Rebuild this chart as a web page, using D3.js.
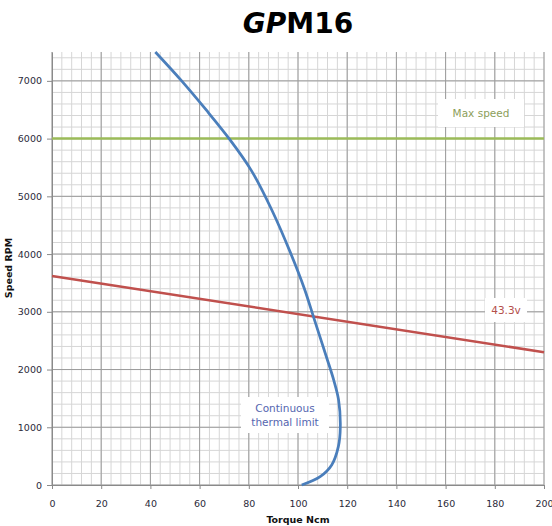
<!DOCTYPE html>
<html>
<head>
<meta charset="utf-8">
<title>GPM16</title>
<script src="https://d3js.org/d3.v7.min.js"></script>
<style>
  body { margin: 0; background: #fff; font-family: "DejaVu Sans", Verdana, sans-serif; }
  svg { display: block; }
</style>
</head>
<body>
<script>
// data
var torque = [101.5, 109, 113.7, 116.4, 117.2, 116.5, 114.5, 111.7, 106.4, 102.6, 97, 89.5, 81, 72, 62.6, 52.7, 42];
var speed  = [0, 144, 347, 664, 1010, 1473, 1820, 2200, 2900, 3400, 4016, 4750, 5450, 6000, 6500, 7000, 7500];
var maxSpeed = 6000;
var voltTorque = [0, 200];
var voltSpeed = [3620, 2300];
var xTicks = [0, 20, 40, 60, 80, 100, 120, 140, 160, 180, 200];
var yTicks = [0, 1000, 2000, 3000, 4000, 5000, 6000, 7000];

var W = 552, H = 526;
var margin = { top: 52, right: 8, bottom: 41, left: 52 };

var svg = d3.select("body").append("svg").attr("width", W).attr("height", H);

var x = d3.scaleLinear().domain([0, 200]).range([margin.left, W - margin.right]);
var y = d3.scaleLinear().domain([0, 7500]).range([H - margin.bottom, margin.top]);

// minor grid
var g = svg.append("g");
g.selectAll(".vmin").data(d3.range(0, 201, 4)).enter().append("line")
  .attr("x1", d => x(d)).attr("x2", d => x(d))
  .attr("y1", y(0)).attr("y2", y(7500))
  .attr("stroke", "#d6d6d6").attr("stroke-width", 1);
g.selectAll(".hmin").data(d3.range(0, 7501, 200)).enter().append("line")
  .attr("x1", x(0)).attr("x2", x(200))
  .attr("y1", d => y(d)).attr("y2", d => y(d))
  .attr("stroke", "#d6d6d6").attr("stroke-width", 1);
// major grid
g.selectAll(".vmaj").data(xTicks).enter().append("line")
  .attr("x1", d => x(d)).attr("x2", d => x(d))
  .attr("y1", y(0)).attr("y2", y(7500))
  .attr("stroke", "#9c9c9c").attr("stroke-width", 1);
g.selectAll(".hmaj").data(yTicks).enter().append("line")
  .attr("x1", x(0)).attr("x2", x(200))
  .attr("y1", d => y(d)).attr("y2", d => y(d))
  .attr("stroke", "#9c9c9c").attr("stroke-width", 1);

// axes
var xAxis = svg.append("g")
  .attr("transform", "translate(0," + y(0) + ")")
  .call(d3.axisBottom(x).tickValues(xTicks).tickSizeInner(4).tickSizeOuter(0).tickPadding(11));
var yAxis = svg.append("g")
  .attr("transform", "translate(" + x(0) + ",0)")
  .call(d3.axisLeft(y).tickValues(yTicks).tickFormat(d3.format("d")).tickSizeInner(5).tickSizeOuter(0).tickPadding(5));
[xAxis, yAxis].forEach(function (a) {
  a.select(".domain").attr("stroke", "#8a8a8a");
  a.selectAll(".tick line").attr("stroke", "#8a8a8a");
  a.selectAll("text").attr("font-family", "DejaVu Sans, Verdana, sans-serif")
    .attr("font-size", "9.5px").attr("fill", "#2a2a3a");
});

// lines
svg.append("line")
  .attr("x1", x(0)).attr("x2", x(200))
  .attr("y1", y(maxSpeed)).attr("y2", y(maxSpeed))
  .attr("stroke", "#9bbb59").attr("stroke-width", 2.5);

svg.append("line")
  .attr("x1", x(voltTorque[0])).attr("x2", x(voltTorque[1]))
  .attr("y1", y(voltSpeed[0])).attr("y2", y(voltSpeed[1]))
  .attr("stroke", "#c0504d").attr("stroke-width", 2.5);

var pts = torque.map((t, i) => [t, speed[i]]);
svg.append("path")
  .datum(pts)
  .attr("d", d3.line().x(d => x(d[0])).y(d => y(d[1])).curve(d3.curveCatmullRom.alpha(0.5)))
  .attr("fill", "none").attr("stroke", "#4a7ebb").attr("stroke-width", 2.75);

// labels
function label(cx, cy, w, h, lines, color) {
  svg.append("rect").attr("x", cx - w / 2).attr("y", cy - h / 2)
    .attr("width", w).attr("height", h).attr("fill", "#fff");
  var t = svg.append("text").attr("text-anchor", "middle")
    .attr("font-size", "10.5px").attr("fill", color);
  lines.forEach(function (s, i) {
    t.append("tspan").attr("x", cx)
      .attr("y", cy + 4 - (lines.length - 1) * 7 + i * 14).text(s);
  });
}
label(481, 113, 86, 28, ["Max speed"], "#8c9e5a");
label(506, 310, 42, 24, ["43.3v"], "#b4504c");
label(285, 415, 88, 36, ["Continuous", "thermal limit"], "#5566b0");

// titles
var title = svg.append("text").attr("x", 298).attr("y", 33).attr("text-anchor", "middle")
  .attr("font-size", "28px").attr("font-weight", "bold").attr("fill", "#000");
title.append("tspan").attr("font-style", "italic").text("GP");
title.append("tspan").text("M16");

svg.append("text").attr("x", 298).attr("y", 523).attr("text-anchor", "middle")
  .attr("font-size", "9.5px").attr("font-weight", "bold").attr("fill", "#111")
  .text("Torque Ncm");
svg.append("text").attr("transform", "translate(12,268) rotate(-90)").attr("text-anchor", "middle")
  .attr("font-size", "9.5px").attr("font-weight", "bold").attr("fill", "#111")
  .text("Speed RPM");
</script>
</body>
</html>
